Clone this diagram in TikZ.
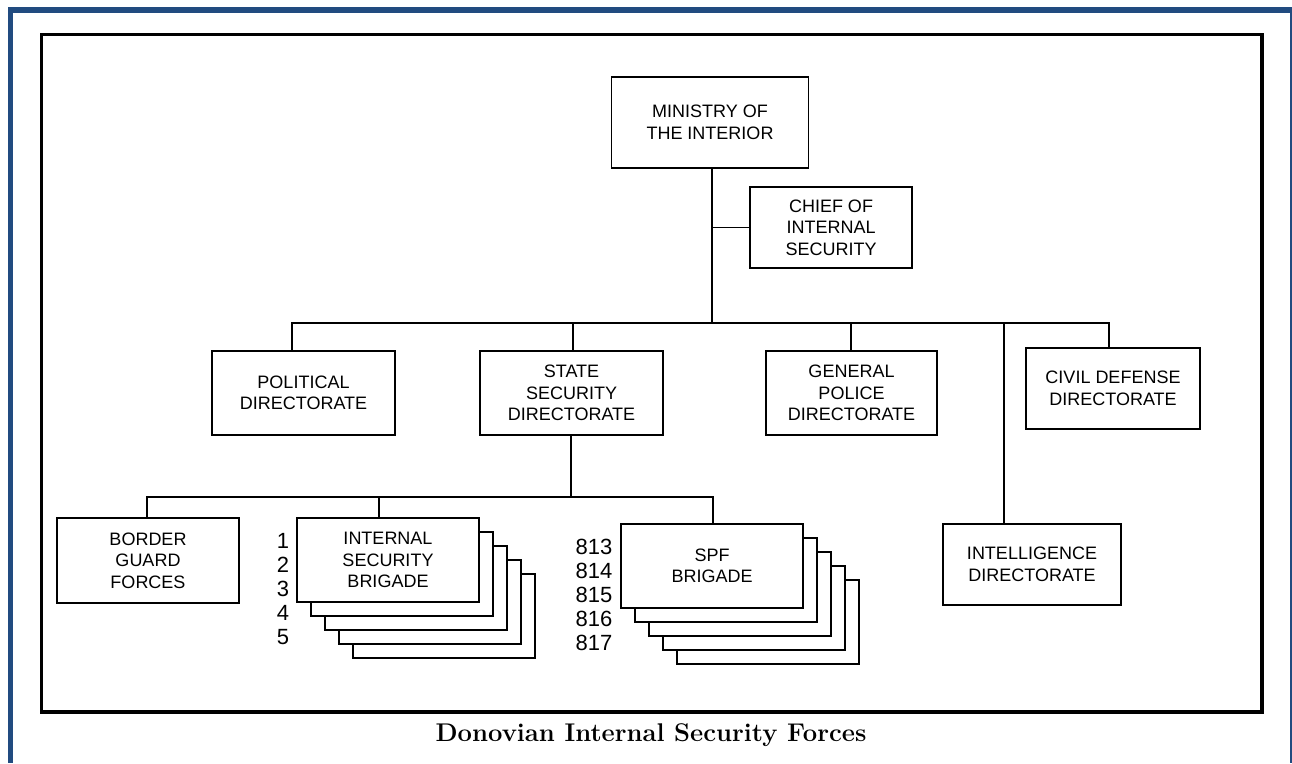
\documentclass[tikz,border=0pt]{standalone}
\usepackage{fontspec}
\newfontfamily\arialf{Liberation Sans}
\definecolor{frameblue}{RGB}{33,75,128}
\begin{document}
\begin{tikzpicture}[x=1pt,y=-1pt,
  orgbox/.style={draw=black,line width=1.6pt,fill=white,inner sep=0pt,align=center,
    font=\arialf\fontsize{18}{21.5}\selectfont},
  backbox/.style={draw=black,line width=1.6pt,fill=white,inner sep=0pt,
    minimum width=182pt,minimum height=84pt},
  conn/.style={draw=black,line width=1.5pt},
  numcol/.style={inner sep=0pt,align=center,font=\arialf\fontsize{22}{24}\selectfont}
]
\useasboundingbox (0,0) rectangle (1292,763);
\fill[white] (0,0) rectangle (1292,763);
% blue page frame
\fill[frameblue] (8,7) rectangle (1292,13);
\fill[frameblue] (8,7) rectangle (13,763);
\fill[frameblue] (1289.5,10) rectangle (1291.5,763);
% inner black frame
\draw[line width=3.2pt] (41.5,34.5) rectangle (1262,712);

% top level
\node[orgbox,minimum width=197pt,minimum height=91pt] (min) at (710,122.5) {MINISTRY OF\\THE INTERIOR};
\node[orgbox,minimum width=162pt,minimum height=81pt] (chief) at (831,227.5) {CHIEF OF\\INTERNAL\\SECURITY};

% directorates
\node[orgbox,minimum width=183pt,minimum height=84pt] (pol) at (303.5,393) {POLITICAL\\DIRECTORATE};
\node[orgbox,minimum width=183pt,minimum height=84pt] (state) at (571.5,393) {STATE\\SECURITY\\DIRECTORATE};
\node[orgbox,minimum width=171pt,minimum height=84pt] (gen) at (851.5,393) {GENERAL\\POLICE\\DIRECTORATE};
\node[orgbox,minimum width=174pt,minimum height=81pt] (civ) at (1113,388.5) {CIVIL DEFENSE\\DIRECTORATE};
\node[orgbox,minimum width=178pt,minimum height=81pt] (intel) at (1032,564.5) {INTELLIGENCE\\DIRECTORATE};

% state security subordinates
\node[orgbox,minimum width=182pt,minimum height=85pt] (border) at (148,560.5) {BORDER\\GUARD\\FORCES};
\node[backbox] (isbD) at (388+56,560+56) {};
\node[backbox] (isbC) at (388+42,560+42) {};
\node[backbox] (isbB) at (388+28,560+28) {};
\node[backbox] (isbA) at (388+14,560+14) {};
\node[orgbox,minimum width=182pt,minimum height=84pt] (isb) at (388,560) {INTERNAL\\SECURITY\\BRIGADE};
\node[backbox] (spfD) at (712+56,566+56) {};
\node[backbox] (spfC) at (712+42,566+42) {};
\node[backbox] (spfB) at (712+28,566+28) {};
\node[backbox] (spfA) at (712+14,566+14) {};
\node[orgbox,minimum width=182pt,minimum height=84pt] (spf) at (712,566) {SPF\\BRIGADE};

\node[numcol] (numA) at (283,589) {1\\2\\3\\4\\5};
\node[numcol] (numB) at (594,595) {813\\814\\815\\816\\817};

% connector coordinates
\coordinate (bus) at (712,323);
\coordinate (subbus) at (571,497);
\coordinate (xpol) at (292,0);
\coordinate (xstate) at (573,0);
\coordinate (xgen) at (851,0);
\coordinate (xintel) at (1004,0);
\coordinate (xciv) at (1109,0);
\coordinate (xborder) at (147,0);
\coordinate (xisb) at (379,0);
\coordinate (xspf) at (713,0);

\draw[conn] (min.south -| bus) -- (bus);
\draw[conn] (chief.west -| bus) -- (chief.west);
\draw[conn] (pol.north -| xpol) -- (bus -| xpol) -- (bus -| xciv) -- (civ.north -| xciv);
\draw[conn] (bus -| xstate) -- (state.north -| xstate);
\draw[conn] (bus -| xgen) -- (gen.north -| xgen);
\draw[conn] (bus -| xintel) -- (intel.north -| xintel);

\draw[conn] (state.south -| subbus) -- (subbus);
\draw[conn] (border.north -| xborder) -- (subbus -| xborder) -- (subbus -| xspf) -- (spf.north -| xspf);
\draw[conn] (subbus -| xisb) -- (isb.north -| xisb);

% caption
\node[inner sep=0pt,font=\fontsize{25.6}{30}\selectfont\bfseries] (cap) at (651,735) {Donovian Internal Security Forces};
\end{tikzpicture}
\end{document}
